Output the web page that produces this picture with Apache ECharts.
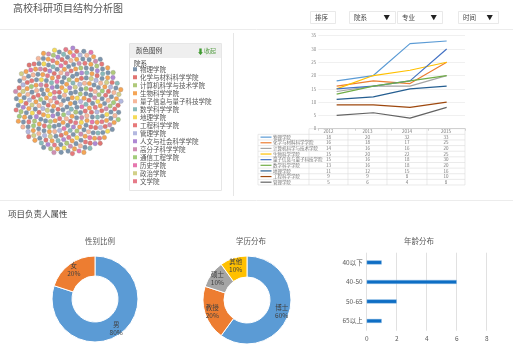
<!DOCTYPE html>
<html><head><meta charset="utf-8">
<script src="https://cdn.jsdelivr.net/npm/echarts@6/dist/echarts.min.js"></script>
<style>html,body{margin:0;padding:0;background:#fff}#c{width:513px;height:347px}</style>
</head><body><div id="c"></div>
<script>
// ---------- data ----------
const colleges = ['物理学院','化学与材料科学学院','计算机科学与技术学院','生物科学学院','量子信息与量子科技学院','数学科学学院','地理学院','工程科学学院','管理学院','人文与社会科学学院','高分子科学学院','通信工程学院','历史学院','政治学院','文学院'];
const collegeColors = ['#5b7b9a','#d9534f','#9bbb59','#f28e2b','#f4a582','#6aa9a9','#f2d22e','#e15759','#a0a6d8','#9b6bc9','#c4729f','#8cc05a','#e0559a','#c7c46a','#e05a6b'];
const projectCounts = [90,30,15,60,25,15,15,20,15,15,15,10,10,10,10];

const years = ['2012','2013','2014','2015'];
const lineColleges = ['物理学院','化学与材料科学学院','计算机科学与技术学院','生物科学学院','量子信息与量子科技学院','数学科学学院','地理学院','工程科学学院','管理学院'];
const lineColors = ['#5b9bd5','#ed7d31','#a5a5a5','#ffc000','#4472c4','#70ad47','#255e91','#9e480e','#636363'];
const wuli = [18,20,32,33];
const huaxue = [16,18,17,25];
const jisuanji = [14,16,16,20];
const shengwu = [15,20,22,25];
const liangzi = [15,16,18,30];
const shuxue = [13,16,18,20];
const dili = [11,12,15,16];
const gongcheng = [9,9,8,10];
const guanli = [5,6,4,8];
const lineValues = [wuli,huaxue,jisuanji,shengwu,liangzi,shuxue,dili,gongcheng,guanli];

const genderNames = ['男','女'];
const genderValues = [80,20];
const eduNames = ['博士','教授','硕士','其他'];
const eduValues = [60,20,10,10];
const pieColors = ['#5b9bd5','#ed7d31','#a5a5a5','#ffc000'];
const ageCats = ['40以下','40-50','50-65','65以上'];
const ageValues = [1,6,2,1];

// ---------- build ----------
const FONT = '"Noto Sans CJK SC","Noto Sans",sans-serif';
const N = projectCounts.reduce((a,b)=>a+b,0);
const STEP = 97;
const scatterSeries = [];
let j = 0;
colleges.forEach((name, ci) => {
  const pts = [];
  for (let k = 0; k < projectCounts[ci]; k++, j++) {
    const p = (j * STEP) % N;
    pts.push([Math.sqrt(p + 0.5), (p * 137.508) % 360]);
  }
  scatterSeries.push({
    type:'scatter', name, coordinateSystem:'polar', polarIndex:0,
    data: pts, symbolSize: 4.6, silent:true,
    itemStyle:{color: collegeColors[ci], borderColor:'rgba(130,130,130,0.7)', borderWidth:0.5}
  });
});

const lineSeries = lineColleges.map((n,i)=>({
  type:'line', name:n + ' ', xAxisIndex:0, yAxisIndex:0, data: lineValues[i],
  showSymbol:false, symbol:'none', lineStyle:{width:1.2, color:lineColors[i]}, itemStyle:{color:lineColors[i]}, silent:true
}));

// table graphics
const g = [];
const colX = [309,348,387,427,465];
const labelLeft = 258;
const tTop = 128.7, rh = 5.63;
const lineStyleT = {stroke:'#dcdcdc', lineWidth:0.6};
g.push({type:'line', shape:{x1:colX[0],y1:tTop,x2:colX[4],y2:tTop}, style:lineStyleT, silent:true});
colX.forEach(x=>g.push({type:'line', shape:{x1:x,y1:tTop,x2:x,y2:tTop+rh*10}, style:lineStyleT, silent:true}));
g.push({type:'line', shape:{x1:labelLeft,y1:tTop+rh,x2:labelLeft,y2:tTop+rh*10}, style:lineStyleT, silent:true});
for (let r = 1; r <= 10; r++) {
  g.push({type:'line', shape:{x1:labelLeft,y1:tTop+rh*r,x2:colX[4],y2:tTop+rh*r}, style:lineStyleT, silent:true});
}
years.forEach((y,ci)=>{
  g.push({type:'text', silent:true, style:{text:y, x:(colX[ci]+colX[ci+1])/2, y:tTop+rh*0.5, fill:'#777', font:'4.5px '+FONT, textAlign:'center', textVerticalAlign:'middle', align:'center', verticalAlign:'middle'}});
});
lineColleges.forEach((n,ri)=>{
  const cy = tTop + rh*(ri+1.5);
  g.push({type:'line', silent:true, shape:{x1:260.5,y1:cy,x2:271.5,y2:cy}, style:{stroke:lineColors[ri], lineWidth:1.2}});
  g.push({type:'text', silent:true, style:{text:n, x:273, y:cy, fill:'#777', font:'4.5px '+FONT, textAlign:'left', textVerticalAlign:'middle', align:'left', verticalAlign:'middle'}});
  lineValues[ri].forEach((v,ci)=>{
    g.push({type:'text', silent:true, style:{text:String(v), x:(colX[ci]+colX[ci+1])/2, y:cy, fill:'#777', font:'4.5px '+FONT, textAlign:'center', textVerticalAlign:'middle', align:'center', verticalAlign:'middle'}});
  });
});

// page chrome
g.push({type:'text', silent:true, style:{text:'高校科研项目结构分析图', x:13, y:8, fill:'#555', font:'10px '+FONT, textAlign:'left', textVerticalAlign:'middle', align:'left', verticalAlign:'middle'}});
g.push({type:'line', silent:true, shape:{x1:0,y1:29.5,x2:513,y2:29.5}, style:{stroke:'#ececec', lineWidth:1}});
g.push({type:'line', silent:true, shape:{x1:0,y1:200.5,x2:513,y2:200.5}, style:{stroke:'#ececec', lineWidth:1}});
g.push({type:'line', silent:true, shape:{x1:233.5,y1:33,x2:233.5,y2:196}, style:{stroke:'#e6e6e6', lineWidth:1}});
const btns = [[310,25,'排序',false],[349,46,'院系',true],[397,45,'专业',true],[458,40,'时间',true]];
btns.forEach(b=>{
  g.push({type:'rect', silent:true, shape:{x:b[0]+0.5,y:11.5,width:b[1],height:12}, style:{fill:'#fff', stroke:'#e3e3e3', lineWidth:0.8}});
  g.push({type:'text', silent:true, style:{text:b[2], x:b[0]+5, y:17.5, fill:'#444', font:'6.5px '+FONT, textAlign:'left', textVerticalAlign:'middle', align:'left', verticalAlign:'middle'}});
  if (b[3]) g.push({type:'text', silent:true, style:{text:'▼', x:b[0]+b[1]-5, y:17.5, fill:'#222', font:'6.5px '+FONT, textAlign:'right', textVerticalAlign:'middle', align:'right', verticalAlign:'middle'}});
});
// legend box
g.push({type:'rect', silent:true, z:-1, shape:{x:129.5,y:43.5,width:92,height:147}, style:{fill:'#fff', stroke:'#e6e6e6', lineWidth:1}});
g.push({type:'rect', silent:true, z:-1, shape:{x:130,y:44,width:91,height:14}, style:{fill:'#efefef'}});
g.push({type:'text', silent:true, style:{text:'颜色图例', x:136, y:51, fill:'#444', font:'6.5px '+FONT, textAlign:'left', textVerticalAlign:'middle', align:'left', verticalAlign:'middle'}});
g.push({type:'text', silent:true, style:{text:'⬇', x:197, y:51, fill:'#3f9a2f', font:'bold 7px '+FONT, textAlign:'left', textVerticalAlign:'middle', align:'left', verticalAlign:'middle'}});
g.push({type:'text', silent:true, style:{text:'收起', x:204, y:51, fill:'#5aa04a', font:'6px '+FONT, textAlign:'left', textVerticalAlign:'middle', align:'left', verticalAlign:'middle'}});
g.push({type:'text', silent:true, style:{text:'院系', x:134, y:64, fill:'#444', font:'6.5px '+FONT, textAlign:'left', textVerticalAlign:'middle', align:'left', verticalAlign:'middle'}});
g.push({type:'text', silent:true, style:{text:'项目负责人属性', x:8, y:213.5, fill:'#444', font:'8.5px '+FONT, textAlign:'left', textVerticalAlign:'middle', align:'left', verticalAlign:'middle'}});

const pieLabel = {show:true, position:'inside', formatter:'{b}\n{d}%', color:'#404040', fontSize:6.5, lineHeight:8, fontFamily:FONT};

const option = {
  animation:false,
  textStyle:{fontFamily:FONT},
  title:[
    {text:'性别比例', left:95, top:232, textAlign:'center', textStyle:{fontSize:7.5, fontWeight:'normal', color:'#595959'}},
    {text:'学历分布', left:246, top:232, textAlign:'center', textStyle:{fontSize:7.5, fontWeight:'normal', color:'#595959'}},
    {text:'年龄分布', left:414, top:232, textAlign:'center', textStyle:{fontSize:7.5, fontWeight:'normal', color:'#595959'}}
  ],
  legend:{
    data: colleges, orient:'vertical', left:133, top:66, itemWidth:4, itemHeight:4, icon:'rect',
    itemGap:1.5, selectedMode:false, padding:0,
    itemStyle:{borderWidth:0},
    textStyle:{fontSize:6.5, color:'#555', lineHeight:6.07, padding:[0,0,0,-2]}
  },
  polar:{center:[68,101], radius:54},
  angleAxis:{type:'value', min:0, max:360, show:false},
  radiusAxis:{type:'value', min:0, max:Math.sqrt(N), show:false},
  grid:[
    {left:318.3, right:48, top:35.7, bottom:218.3},
    {left:366.7, right:26.3, top:252.7, bottom:16.3}
  ],
  xAxis:[
    {gridIndex:0, type:'category', data:years, boundaryGap:true,
     axisLine:{lineStyle:{color:'#d0d0d0'}}, axisTick:{show:true, length:2, lineStyle:{color:'#d0d0d0'}}, axisLabel:{show:false}},
    {gridIndex:1, type:'value', min:0, max:8, interval:2,
     axisLine:{show:false}, axisTick:{show:false},
     splitLine:{lineStyle:{color:'#d9d9d9', width:0.8}},
     axisLabel:{fontSize:6.5, color:'#595959', margin:5}}
  ],
  yAxis:[
    {gridIndex:0, type:'value', min:0, max:35, interval:5,
     axisLine:{show:false}, axisTick:{show:false},
     splitLine:{lineStyle:{color:'#ececec', width:0.8}},
     axisLabel:{fontSize:4.5, color:'#888', margin:2}},
    {gridIndex:1, type:'category', data:ageCats, inverse:true,
     axisLine:{show:false}, axisTick:{show:false},
     axisLabel:{fontSize:6.5, color:'#595959', margin:4}}
  ],
  graphic: g,
  series: [
    ...scatterSeries,
    ...lineSeries,
    {type:'pie', center:[95,299], radius:[23,43], startAngle:90, clockwise:true, silent:true,
     data: genderNames.map((n,i)=>({name:n, value:genderValues[i], itemStyle:{color:pieColors[i]}})),
     itemStyle:{borderColor:'#fff', borderWidth:1}, label:pieLabel, labelLine:{show:false}},
    {type:'pie', center:[247,300], radius:[23,44], startAngle:90, clockwise:true, silent:true,
     data: eduNames.map((n,i)=>({name:n, value:eduValues[i], itemStyle:{color:pieColors[i]}})),
     itemStyle:{borderColor:'#fff', borderWidth:1}, label:pieLabel, labelLine:{show:false}},
    {type:'bar', xAxisIndex:1, yAxisIndex:1, data:ageValues, barWidth:4, silent:true,
     itemStyle:{color:'#0e6ec4', borderColor:'#8fbde6', borderWidth:0.4}}
  ]
};
const chart = echarts.init(document.getElementById('c'));
chart.setOption(option);
</script></body></html>
